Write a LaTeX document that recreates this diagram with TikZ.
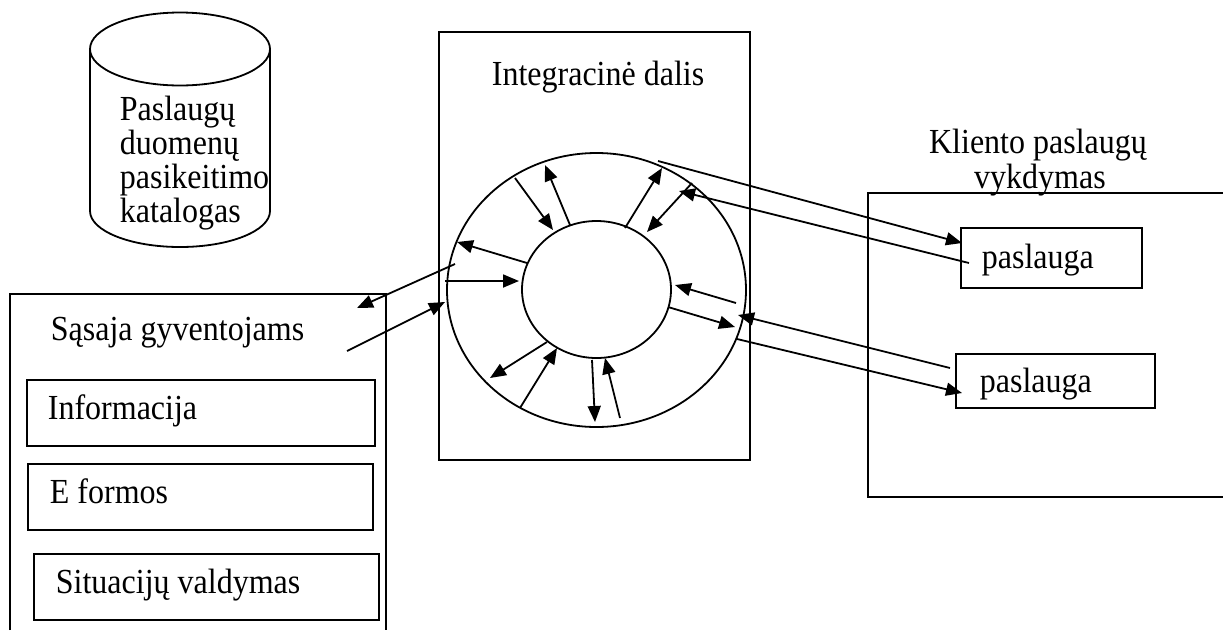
\documentclass[tikz,border=0pt]{standalone}
\usepackage{fontspec}
\usepackage{graphicx}
\setmainfont{Liberation Serif}
\usetikzlibrary{arrows.meta,shapes.geometric}
\newcommand{\tx}[1]{\scalebox{1}[1.1]{#1}}
\begin{document}
\begin{tikzpicture}[x=1pt,y=-1pt,line width=1.8pt,
  box/.style={draw,line width=1.8pt,inner sep=0pt,anchor=north west},
  ring/.style={draw,ellipse,line width=1.8pt,inner sep=0pt},
  lbl/.style={anchor=base west,inner sep=0pt,font=\fontsize{32}{32}\selectfont},
  arr/.style={-{Triangle[length=16pt,width=13pt]},line width=1.8pt}]
\useasboundingbox (0,0) rectangle (1223,630);
\fill[white] (0,0) rectangle (1223,630);

% cylinder
\draw (180,49) ellipse [x radius=90pt, y radius=36.5pt];
\draw (90,49) -- (90,211) arc[start angle=180, end angle=360, x radius=90pt, y radius=36pt] -- (270,49);
\node[lbl,font=\fontsize{32}{28.8}\selectfont] (cyl) at (119,222)
  {\tx{\begin{tabular}[b]{@{}l@{}}Paslaugų\\duomenų\\pasikeitimo\\katalogas\end{tabular}}};

% middle box
\node[box,minimum width=311pt,minimum height=428pt] (mid) at (438,31) {};
\node[lbl] (midtxt) at (491,85) {\tx{Integracinė dalis}};
\node[ring,minimum width=299pt,minimum height=274pt] (outer) at (596.5,290) {};
\node[ring,minimum width=149pt,minimum height=137pt] (inner) at (596.5,289.5) {};

% left box
\draw (10,630) -- (10,294) -- (386,294) -- (386,630);
\node[lbl] (sasaja) at (50,340) {\tx{Sąsaja gyventojams}};
\node[box,minimum width=348pt,minimum height=66pt] (info) at (26,379) {};
\node[lbl] (infotxt) at (47,419) {\tx{Informacija}};
\node[box,minimum width=345pt,minimum height=66pt] (eform) at (27,463) {};
\node[lbl] (eformtxt) at (49,503) {\tx{E formos}};
\node[box,minimum width=345pt,minimum height=66pt] (situ) at (33,553) {};
\node[lbl] (situtxt) at (55,593) {\tx{Situacijų valdymas}};

% right box
\draw (1223,193) -- (868,193) -- (868,497) -- (1223,497);
\node[lbl,anchor=base] (kl1) at (1038,153) {\tx{Kliento paslaugų}};
\node[lbl,anchor=base] (kl2) at (1040,188) {\tx{vykdymas}};
\node[box,minimum width=181pt,minimum height=60pt] (p1) at (960,227) {};
\node[lbl] (p1txt) at (981,268) {\tx{paslauga}};
\node[box,minimum width=199pt,minimum height=54pt] (p2) at (955,353) {};
\node[lbl] (p2txt) at (979,392) {\tx{paslauga}};

% ring arrows
\foreach \i/\a/\b/\c/\d in {1/515/178/553/230, 2/570/225/545/165, 3/625/228/662/168, 4/692/183/647/232,
  5/527/263/457/242, 6/445/281/519/281, 7/736/303/675/285, 8/668/307/735/327,
  9/547/342/490/378, 10/520/408/557/348, 11/592/360/595/422, 12/620/418/605/358}{
  \coordinate (s\i) at (\a,\b);
  \coordinate (t\i) at (\c,\d);
  \draw[arr] (s\i) -- (t\i);
}

% left connectors
\coordinate (l1s) at (455,264);
\coordinate (l1t) at (357,308);
\draw[arr] (l1s) -- (l1t);
\coordinate (l2s) at (347,351);
\coordinate (l2t) at (445,302);
\draw[arr] (l2s) -- (l2t);

% right connectors
\coordinate (r1s) at (658,161);
\coordinate (r1t) at (962,243);
\draw[arr] (r1s) -- (r1t);
\coordinate (r2s) at (969,263);
\coordinate (r2t) at (679,191);
\draw[arr] (r2s) -- (r2t);
\coordinate (r3s) at (950,368);
\coordinate (r3t) at (738,315);
\draw[arr] (r3s) -- (r3t);
\coordinate (r4s) at (737,339);
\coordinate (r4t) at (962,393);
\draw[arr] (r4s) -- (r4t);
\end{tikzpicture}
\end{document}
